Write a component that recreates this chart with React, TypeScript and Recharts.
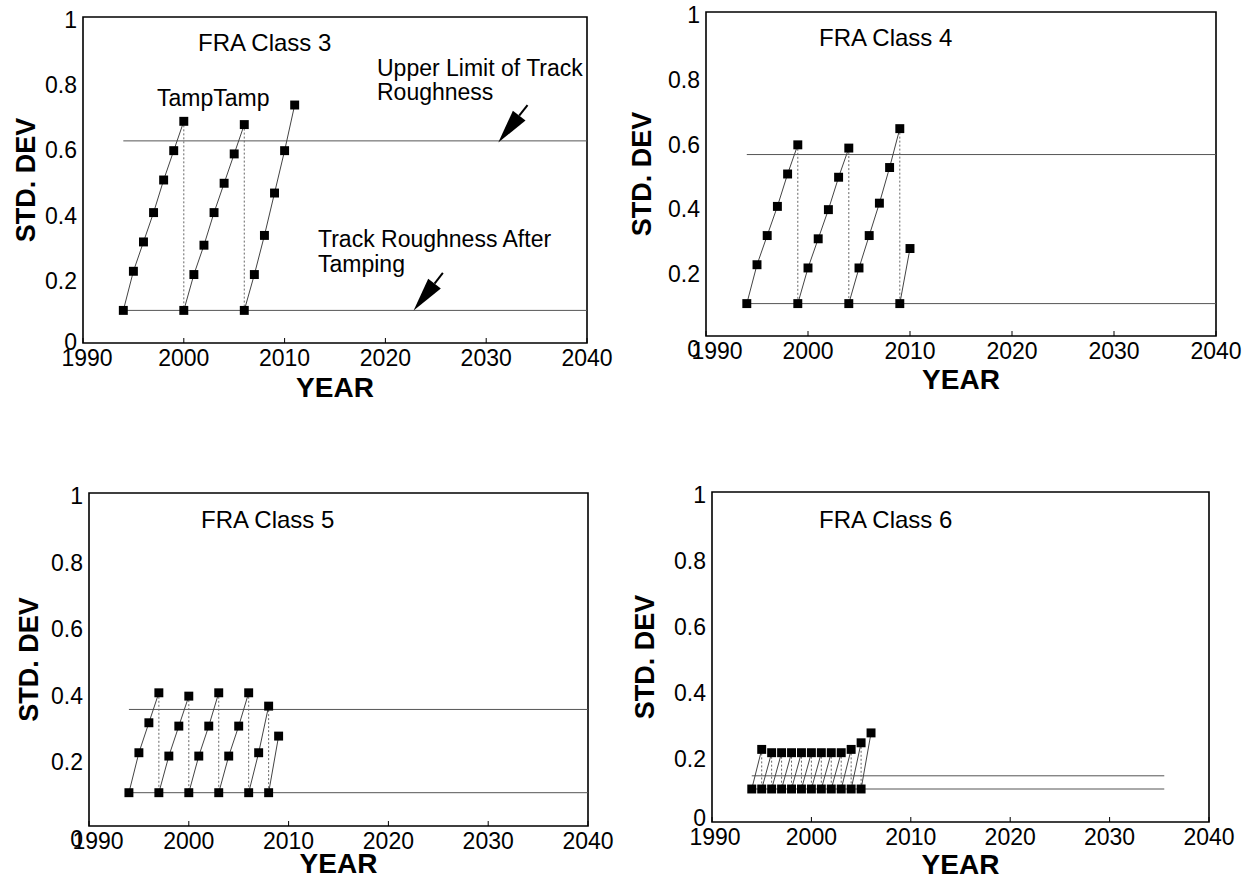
import React from "react";
import {
  ComposedChart,
  Line,
  Scatter,
  XAxis,
  YAxis,
  ZAxis,
  Label,
  ReferenceArea,
  ReferenceLine,
} from "recharts";

const YEAR_TICKS = [1990, 2000, 2010, 2020, 2030, 2040];
const STD_TICKS = [0, 0.2, 0.4, 0.6, 0.8, 1];

// yearly std. dev. of track geometry; a repeated year is a tamping reset
const class3Years = [1994, 1995, 1996, 1997, 1998, 1999, 2000, 2000, 2001, 2002, 2003, 2004, 2005, 2006, 2006, 2007, 2008, 2009, 2010, 2011];
const class3Std = [0.1, 0.22, 0.31, 0.4, 0.5, 0.59, 0.68, 0.1, 0.21, 0.3, 0.4, 0.49, 0.58, 0.67, 0.1, 0.21, 0.33, 0.46, 0.59, 0.73];
const class3Limits = [0.62, 0.1];

const class4Years = [1994, 1995, 1996, 1997, 1998, 1999, 1999, 2000, 2001, 2002, 2003, 2004, 2004, 2005, 2006, 2007, 2008, 2009, 2009, 2010];
const class4Std = [0.1, 0.22, 0.31, 0.4, 0.5, 0.59, 0.1, 0.21, 0.3, 0.39, 0.49, 0.58, 0.1, 0.21, 0.31, 0.41, 0.52, 0.64, 0.1, 0.27];
const class4Limits = [0.56, 0.1];

const class5Years = [1994, 1995, 1996, 1997, 1997, 1998, 1999, 2000, 2000, 2001, 2002, 2003, 2003, 2004, 2005, 2006, 2006, 2007, 2008, 2008, 2009];
const class5Std = [0.1, 0.22, 0.31, 0.4, 0.1, 0.21, 0.3, 0.39, 0.1, 0.21, 0.3, 0.4, 0.1, 0.21, 0.3, 0.4, 0.1, 0.22, 0.36, 0.1, 0.27];
const class5Limits = [0.35, 0.1];

const class6Years = [1994, 1995, 1995, 1996, 1996, 1997, 1997, 1998, 1998, 1999, 1999, 2000, 2000, 2001, 2001, 2002, 2002, 2003, 2003, 2004, 2004, 2005, 2005, 2006];
const class6Std = [0.1, 0.22, 0.1, 0.21, 0.1, 0.21, 0.1, 0.21, 0.1, 0.21, 0.1, 0.21, 0.1, 0.21, 0.1, 0.21, 0.1, 0.21, 0.1, 0.22, 0.1, 0.24, 0.1, 0.27];
const class6Limits = [0.14, 0.1];

const LIMIT_SPAN = [1994, 2040];
const CLASS6_LIMIT_SPAN = [1994, 2035.5];

const FONT = "'Liberation Sans', Arial, sans-serif";

type Pt = { year: number; v: number | null };

// split the sawtooth into rising runs (solid) and tamping drops (dotted)
function buildSeries(years: number[], std: number[]) {
  const points: Pt[] = years.map((year, i) => ({ year, v: std[i] }));
  const ramps: Pt[] = [];
  const drops: Pt[] = [];
  points.forEach((p, i) => {
    const next = points[i + 1];
    ramps.push(p);
    if (next && next.year === p.year) {
      ramps.push({ year: p.year, v: null });
      drops.push(p, next, { year: p.year, v: null });
    }
  });
  return { points, ramps, drops };
}

function YearTick({ x, y, payload, firstDx }: any) {
  const dx = payload.value === 1990 ? firstDx : 0;
  return (
    <text x={x + dx} y={y} dy="0.71em" textAnchor="middle" fontSize={23} fontFamily={FONT} fill="#000">
      {payload.value}
    </text>
  );
}

function StdTick({ x, y, payload, zeroDy }: any) {
  const shift = payload.value === 0 ? zeroDy : 3;
  return (
    <text x={x} y={y + shift} dy="0.35em" textAnchor="end" fontSize={23} fontFamily={FONT} fill="#000">
      {payload.value}
    </text>
  );
}

function Arrow(props: any) {
  const { x1, y1, x2, y2 } = props;
  const dx = x2 - x1;
  const dy = y2 - y1;
  const len = Math.hypot(dx, dy) || 1;
  const ux = dx / len;
  const uy = dy / len;
  const headLen = 34;
  const headW = 8;
  const bx = x2 - ux * headLen;
  const by = y2 - uy * headLen;
  return (
    <g>
      <line x1={x1} y1={y1} x2={bx} y2={by} stroke="#000" strokeWidth={2} />
      <polygon
        points={`${x2},${y2} ${bx - uy * headW},${by + ux * headW} ${bx + uy * headW},${by - ux * headW}`}
        fill="#000"
      />
    </g>
  );
}

type PanelProps = {
  title: string;
  years: number[];
  std: number[];
  limits: number[];
  span: number[];
  left: number;
  top: number;
  margin: { top: number; right: number; bottom: number; left: number };
  yAxisWidth: number;
  zeroDy: number;
  firstDx: number;
  yearOffset: number;
  stdOffset: number;
  titleX: number;
  titleY: number;
  children?: React.ReactNode;
};

const textStyle = { fontSize: 23, fontFamily: FONT, fill: "#000" };

function Panel(p: PanelProps) {
  const { points, ramps, drops } = buildSeries(p.years, p.std);
  const limitLines = p.limits.map((v) => p.span.map((year) => ({ year, v })));
  return (
    <div style={{ position: "absolute", left: p.left, top: p.top }}>
      <ComposedChart width={627} height={440} margin={p.margin}>
        <XAxis
          type="number"
          dataKey="year"
          domain={[1990, 2040]}
          ticks={YEAR_TICKS}
          interval={0}
          axisLine={false}
          tickSize={-5}
          tickMargin={12}
          tickLine={{ stroke: "#000", strokeWidth: 1 }}
          tick={<YearTick firstDx={p.firstDx} />}
          height={60}
        >
          <Label
            value="YEAR"
            position="insideTop"
            offset={p.yearOffset}
            fontSize={28}
            fontWeight="bold"
            fontFamily={FONT}
            fill="#000"
          />
        </XAxis>
        <YAxis
          type="number"
          domain={[0, 1]}
          ticks={STD_TICKS}
          interval={0}
          width={p.yAxisWidth}
          axisLine={false}
          tickLine={false}
          tickSize={0}
          tickMargin={6}
          tick={<StdTick zeroDy={p.zeroDy} />}
        >
          <Label
            value="STD. DEV"
            angle={-90}
            position="insideLeft"
            offset={p.stdOffset}
            style={{ textAnchor: "middle" }}
            fontSize={27}
            fontWeight="bold"
            fontFamily={FONT}
            fill="#000"
          />
        </YAxis>
        <ZAxis range={[80, 80]} />

        <ReferenceArea x1={1990} x2={2040} y1={0} y2={1} fill="none" stroke="#000" strokeWidth={1.6} ifOverflow="visible" />

        {limitLines.map((d, i) => (
          <Line key={`lim${i}`} data={d} dataKey="v" stroke="#555" strokeWidth={1} dot={false} isAnimationActive={false} />
        ))}
        <Line data={drops} dataKey="v" stroke="#666" strokeWidth={1} strokeDasharray="2 2" dot={false} connectNulls={false} isAnimationActive={false} />
        <Line data={ramps} dataKey="v" stroke="#444" strokeWidth={1} dot={false} connectNulls={false} isAnimationActive={false} />
        <Scatter data={points} dataKey="v" fill="#000" shape="square" isAnimationActive={false} />

        <text x={p.titleX} y={p.titleY} {...textStyle} fontSize={24}>
          {p.title}
        </text>
        {p.children}
      </ComposedChart>
    </div>
  );
}

export default function App() {
  return (
    <div style={{ position: "absolute", left: 0, top: 0, width: 1254, height: 887, background: "#fff" }}>
      <Panel
        title="FRA Class 3"
        years={class3Years}
        std={class3Std}
        limits={class3Limits}
        span={LIMIT_SPAN}
        left={0}
        top={0}
        margin={{ top: 17, right: 40, bottom: 37, left: 0 }}
        yAxisWidth={83}
        zeroDy={-1}
        firstDx={4}
        yearOffset={34}
        stdOffset={25}
        titleX={198}
        titleY={51}
      >
        <text x={157} y={106} {...textStyle}>TampTamp</text>
        <text x={377} y={76} {...textStyle}>Upper Limit of Track</text>
        <text x={377} y={100} {...textStyle}>Roughness</text>
        <text x={318} y={247} {...textStyle}>Track Roughness After</text>
        <text x={318} y={272} {...textStyle}>Tamping</text>
        <ReferenceLine segment={[{ x: 2034.1, y: 0.73 }, { x: 2031.2, y: 0.615 }]} shape={Arrow} ifOverflow="visible" />
        <ReferenceLine segment={[{ x: 2025.7, y: 0.215 }, { x: 2022.8, y: 0.1 }]} shape={Arrow} ifOverflow="visible" />
      </Panel>
      <Panel
        title="FRA Class 4"
        years={class4Years}
        std={class4Std}
        limits={class4Limits}
        span={LIMIT_SPAN}
        left={627}
        top={0}
        margin={{ top: 12, right: 38, bottom: 44, left: 0 }}
        yAxisWidth={79}
        zeroDy={13}
        firstDx={11}
        yearOffset={33}
        stdOffset={14}
        titleX={192}
        titleY={46}
      />
      <Panel
        title="FRA Class 5"
        years={class5Years}
        std={class5Std}
        limits={class5Limits}
        span={LIMIT_SPAN}
        left={0}
        top={447}
        margin={{ top: 46, right: 39, bottom: 1, left: 0 }}
        yAxisWidth={89}
        zeroDy={13}
        firstDx={9}
        yearOffset={27}
        stdOffset={28}
        titleX={201}
        titleY={81}
      />
      <Panel
        title="FRA Class 6"
        years={class6Years}
        std={class6Std}
        limits={class6Limits}
        span={CLASS6_LIMIT_SPAN}
        left={627}
        top={447}
        margin={{ top: 45, right: 45, bottom: 5, left: 0 }}
        yAxisWidth={85}
        zeroDy={-4}
        firstDx={3}
        yearOffset={32}
        stdOffset={17}
        titleX={192}
        titleY={81}
      />
    </div>
  );
}
